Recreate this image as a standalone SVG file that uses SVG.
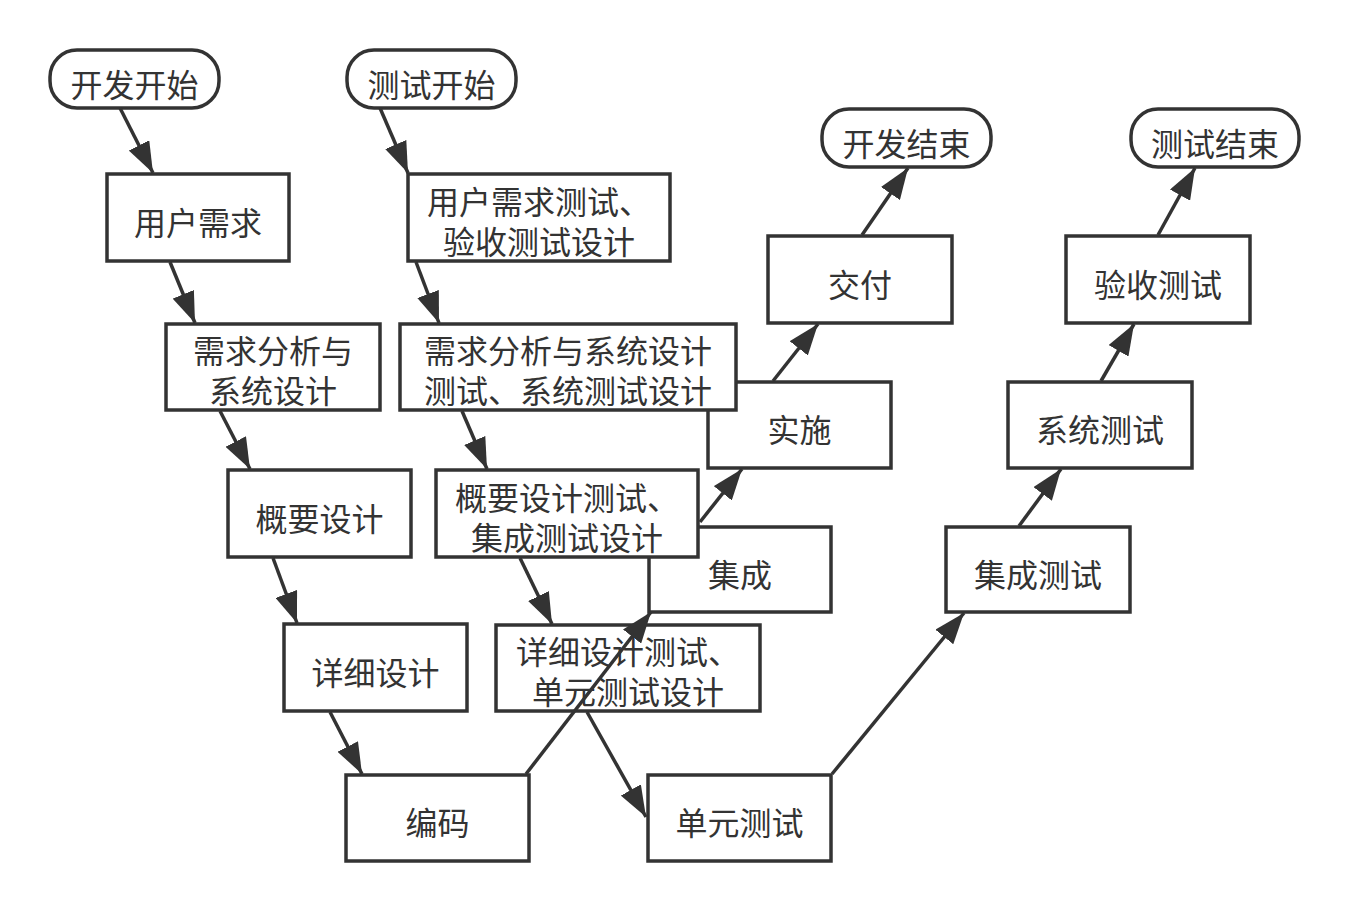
<svg xmlns="http://www.w3.org/2000/svg" width="1350" height="911" viewBox="0 0 1350 911">
<style>
.box{fill:#fff;stroke:#333;stroke-width:3.5}
.t{font-family:"Noto Sans CJK SC","Noto Sans CJK TC",sans-serif;font-size:32px;fill:#333;text-anchor:middle}
.c{fill:none;stroke:#333;stroke-width:3.5}
</style>
<defs>
<marker id="arr" markerWidth="31" markerHeight="23" refX="31" refY="11.5" orient="auto" markerUnits="userSpaceOnUse">
<path d="M0,0 L31,11.5 L0,23 z" fill="#333"/>
</marker>
</defs>
<rect width="1350" height="911" fill="#fff"/>
<g id="dev-start"><rect class="box" x="50" y="50" width="169" height="58" rx="27"/><text class="t" x="134.5" y="97">开发开始</text></g>
<g id="test-start"><rect class="box" x="347" y="50" width="169" height="58" rx="27"/><text class="t" x="431.5" y="97">测试开始</text></g>
<g id="user-req"><rect class="box" x="107" y="174" width="182" height="87"/><text class="t" x="198" y="234.5">用户需求</text></g>
<g id="req-analysis"><rect class="box" x="166" y="324" width="214" height="86"/><text class="t" x="273" y="363">需求分析与</text><text class="t" x="273" y="403">系统设计</text></g>
<g id="overview-design"><rect class="box" x="228" y="470" width="183" height="87"/><text class="t" x="319.5" y="530.5">概要设计</text></g>
<g id="detail-design"><rect class="box" x="284" y="624" width="183" height="87"/><text class="t" x="375.5" y="684.5">详细设计</text></g>
<g id="coding"><rect class="box" x="346" y="775" width="183" height="86"/><text class="t" x="437.5" y="835">编码</text></g>
<g id="integration"><rect class="box" x="649" y="527" width="182" height="85"/><text class="t" x="740" y="586.5">集成</text></g>
<g id="implement"><rect class="box" x="708" y="382" width="183" height="86"/><text class="t" x="799.5" y="442">实施</text></g>
<g id="delivery"><rect class="box" x="768" y="236" width="184" height="87"/><text class="t" x="860" y="296.5">交付</text></g>
<g id="dev-end"><rect class="box" x="822" y="109" width="169" height="58" rx="27"/><text class="t" x="906.5" y="156">开发结束</text></g>
<g id="user-req-test"><rect class="box" x="408" y="174" width="262" height="87"/><text class="t" x="539" y="213.5">用户需求测试、</text><text class="t" x="539" y="253.5">验收测试设计</text></g>
<g id="req-analysis-test"><rect class="box" x="400" y="324" width="336" height="86"/><text class="t" x="568" y="363">需求分析与系统设计</text><text class="t" x="568" y="403">测试、系统测试设计</text></g>
<g id="overview-design-test"><rect class="box" x="436" y="470" width="262" height="87"/><text class="t" x="567" y="509.5">概要设计测试、</text><text class="t" x="567" y="549.5">集成测试设计</text></g>
<g id="detail-design-test"><rect class="box" x="496" y="625" width="264" height="86"/><text class="t" x="628" y="664">详细设计测试、</text><text class="t" x="628" y="704">单元测试设计</text></g>
<g id="unit-test"><rect class="box" x="648" y="775" width="183" height="86"/><text class="t" x="739.5" y="835">单元测试</text></g>
<g id="integration-test"><rect class="box" x="946" y="527" width="184" height="85"/><text class="t" x="1038" y="586.5">集成测试</text></g>
<g id="system-test"><rect class="box" x="1008" y="382" width="184" height="86"/><text class="t" x="1100" y="442">系统测试</text></g>
<g id="acceptance-test"><rect class="box" x="1066" y="236" width="184" height="87"/><text class="t" x="1158" y="296.5">验收测试</text></g>
<g id="test-end"><rect class="box" x="1131" y="109" width="168" height="58" rx="27"/><text class="t" x="1215" y="156">测试结束</text></g>
<g id="connectors">
<line class="c" x1="120" y1="108" x2="153" y2="173" marker-end="url(#arr)"/>
<line class="c" x1="380" y1="108" x2="408" y2="173" marker-end="url(#arr)"/>
<line class="c" x1="170" y1="262" x2="195" y2="323" marker-end="url(#arr)"/>
<line class="c" x1="416" y1="262" x2="439" y2="323" marker-end="url(#arr)"/>
<line class="c" x1="220" y1="411" x2="250" y2="469" marker-end="url(#arr)"/>
<line class="c" x1="462" y1="411" x2="487" y2="469" marker-end="url(#arr)"/>
<line class="c" x1="273" y1="558" x2="297" y2="623" marker-end="url(#arr)"/>
<line class="c" x1="520" y1="558" x2="552" y2="624" marker-end="url(#arr)"/>
<line class="c" x1="330" y1="712" x2="362" y2="774" marker-end="url(#arr)"/>
<line class="c" x1="587" y1="712" x2="646" y2="817" marker-end="url(#arr)"/>
<line class="c" x1="526" y1="774" x2="651" y2="612" marker-end="url(#arr)"/>
<line class="c" x1="700" y1="522" x2="742" y2="469" marker-end="url(#arr)"/>
<line class="c" x1="773" y1="381" x2="818" y2="324" marker-end="url(#arr)"/>
<line class="c" x1="862" y1="235" x2="908" y2="168" marker-end="url(#arr)"/>
<line class="c" x1="832" y1="774" x2="964" y2="613" marker-end="url(#arr)"/>
<line class="c" x1="1019" y1="526" x2="1061" y2="469" marker-end="url(#arr)"/>
<line class="c" x1="1101" y1="381" x2="1134" y2="324" marker-end="url(#arr)"/>
<line class="c" x1="1158" y1="235" x2="1195" y2="168" marker-end="url(#arr)"/>
</g>
</svg>
